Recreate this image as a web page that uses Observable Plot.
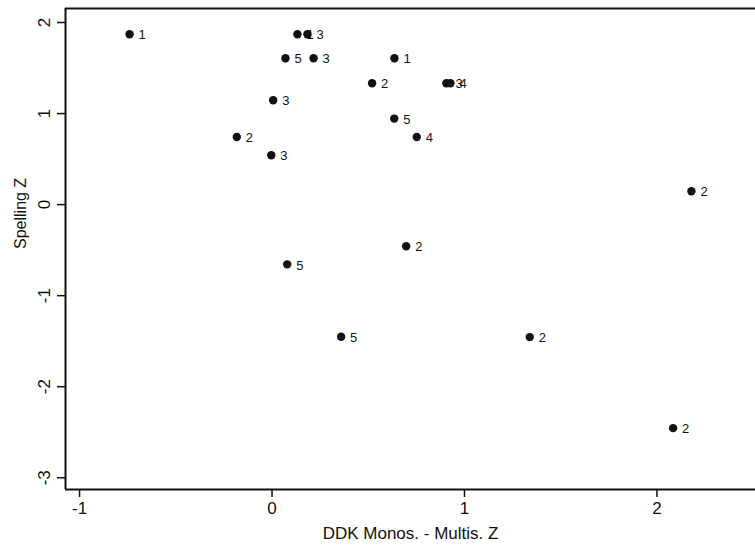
<!DOCTYPE html>
<html><head><meta charset="utf-8">
<script src="https://cdn.jsdelivr.net/npm/d3@7"></script>
<script src="https://cdn.jsdelivr.net/npm/@observablehq/plot@0.6"></script>
<style>
html,body{margin:0;padding:0;background:#fff;}
svg{display:block;}
</style>
</head><body>
<div id="chart"></div>
<script>
const ddk = [-0.740, 0.132, 0.184, 0.070, 0.216, 0.636, 0.520, 0.906, 0.927, 0.006, -0.183, -0.004, 0.635, 0.752, 2.179, 0.697, 0.079, 0.359, 1.339, 2.084];
const spelling = [1.871, 1.871, 1.871, 1.607, 1.607, 1.607, 1.333, 1.333, 1.333, 1.146, 0.742, 0.542, 0.945, 0.743, 0.146, -0.458, -0.656, -1.451, -1.455, -2.455];
const group = ["1", "1", "3", "5", "3", "1", "2", "3", "4", "3", "2", "3", "5", "4", "2", "2", "5", "5", "2", "2"];
const xTicks = [-1, 0, 1, 2];
const yTicks = [-3, -2, -1, 0, 1, 2];
const xDomain = [-1.073, 2.512];
const yDomain = [-3.129, 2.154];
const xTitle = "DDK Monos. - Multis. Z";
const yTitle = "Spelling Z";

const data = ddk.map((d, i) => ({x: d, y: spelling[i], g: group[i]}));
const ink = "#111";
const font = "Liberation Sans, Arial, Helvetica, sans-serif";

const chart = Plot.plot({
  width: 755,
  height: 549,
  marginLeft: 65,
  marginTop: 8,
  marginRight: 0,
  marginBottom: 60,
  style: {fontFamily: font, color: ink, background: "#fff"},
  x: {domain: xDomain},
  y: {domain: yDomain},
  marks: [
    Plot.ruleY([yDomain[1]], {stroke: ink, strokeWidth: 2}),
    Plot.ruleY([yDomain[0]], {stroke: ink, strokeWidth: 2}),
    Plot.ruleX([xDomain[0]], {stroke: ink, strokeWidth: 2}),
    Plot.axisX({ticks: xTicks, tickSize: 8, tickPadding: 4, fontSize: 17, tickFormat: d => String(d), label: null, stroke: ink, strokeWidth: 1.5}),
    Plot.axisY({ticks: yTicks, tickSize: 8, tickPadding: 8, fontSize: 17, tickRotate: -90, tickFormat: d => String(d), label: null, stroke: ink, strokeWidth: 1.5}),
    Plot.text([xTitle], {frameAnchor: "bottom", dy: 49, fontSize: 17, fill: ink, style: "letter-spacing:0.6px"}),
    Plot.text([yTitle], {frameAnchor: "left", dx: -45, rotate: -90, fontSize: 16, fill: ink}),
    Plot.text(data, {x: "x", y: "y", text: "g", dx: 9, dy: 1, textAnchor: "start", fontSize: 13, fill: ink}),
    Plot.dot(data, {x: "x", y: "y", r: 4.2, fill: ink, stroke: "none"})
  ]
});
document.getElementById("chart").append(chart);
</script>
</body></html>
